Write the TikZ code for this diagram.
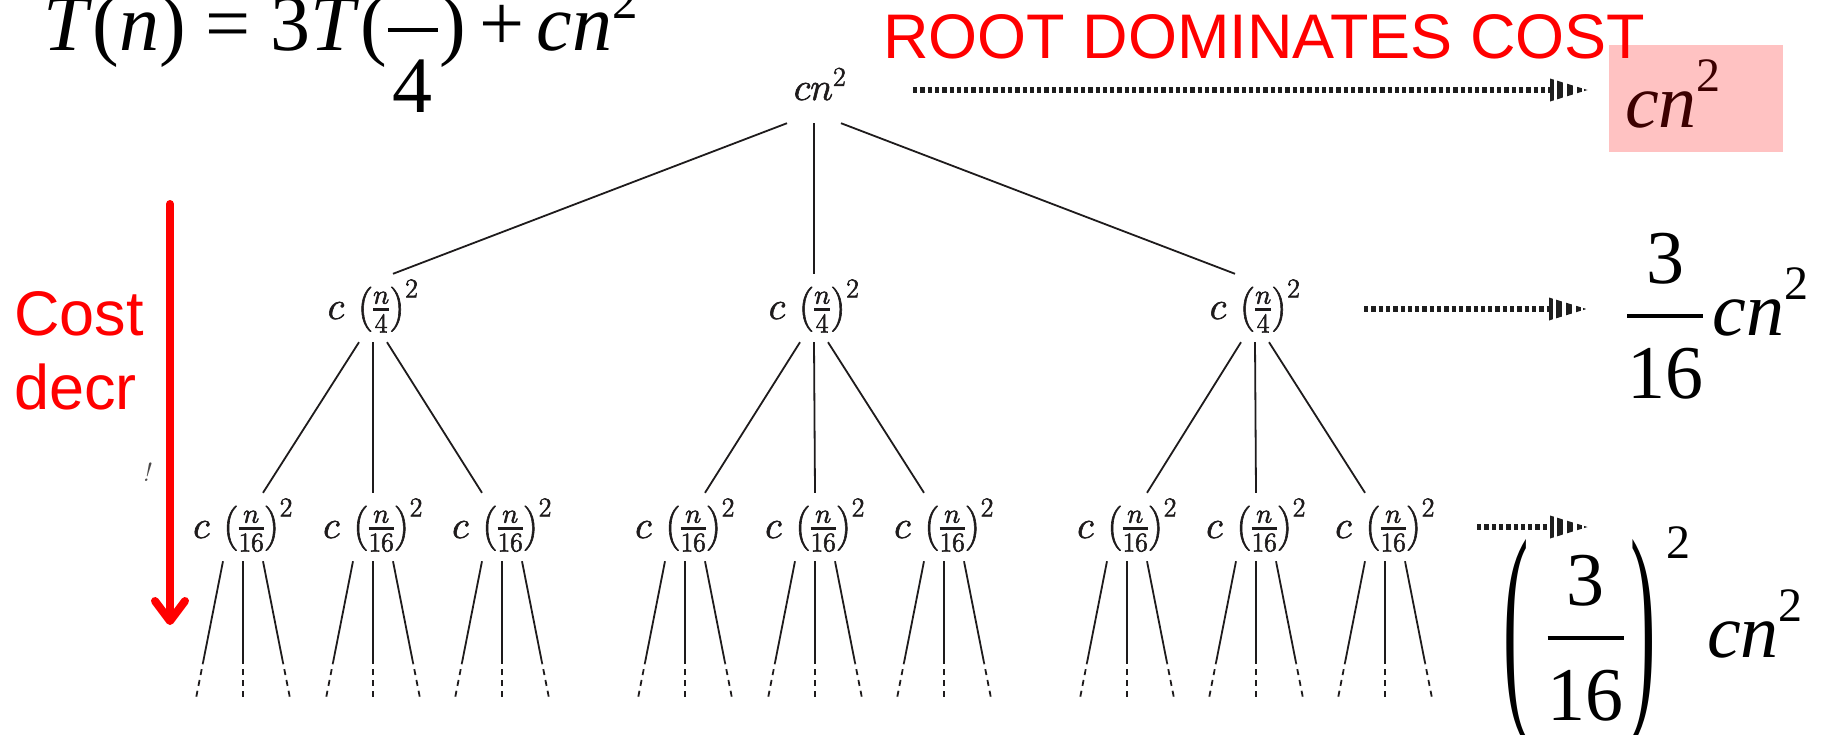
\RequirePackage{fix-cm}
\documentclass[tikz,border=0pt]{standalone}
\usepackage{amsmath}
\usepackage{graphicx}
\usepackage{fontspec}
\newfontfamily\tnr{Liberation Serif}
\newfontfamily\arial{Liberation Sans}
\usetikzlibrary{arrows.meta,calc}
\definecolor{tred}{RGB}{255,0,0}
\definecolor{ink}{RGB}{30,27,28}
\definecolor{boxpink}{RGB}{255,194,194}
\definecolor{boxtext}{RGB}{60,0,0}
\definecolor{dotgray}{RGB}{30,30,30}
\newcommand\psup[1]{\raisebox{0.47em}{\fontsize{48}{48}\selectfont #1}}
\newcommand\heavy[1]{\special{pdf:literal direct 2 Tr 0.6 w}#1\special{pdf:literal direct 0 Tr}}
\newcommand\dothead[1]{%
  \begin{scope}[shift={(#1)}]
    \clip (-37,-11.5) -- (0.5,0) -- (-37,11.5) -- cycle;
    \foreach \ha/\hb in {-37/-33.5,-30/-24,-20/-14,-10/-5,-3/1}{\fill[dotgray] (\ha,-12) rectangle (\hb,12);}
  \end{scope}}
\begin{document}
\begin{tikzpicture}[x=1pt,y=-1pt,
  tree/.style={anchor=base, inner sep=0pt, text height=45pt, text depth=23pt,
    font=\fontsize{39}{47}\selectfont, text=ink},
  edge/.style={draw=ink, line width=1.8pt},
  leafdash/.style={edge, dash pattern=on 6pt off 5pt, dash phase=5pt},
  dotline/.style={draw=dotgray, line width=5.5pt, dash pattern=on 4.3pt off 3pt},
  redlbl/.style={font=\arial\fontsize{63}{74}\selectfont, text=tred, inner sep=0pt},
  serifbig/.style={font=\tnr\fontsize{76}{90}\selectfont, inner sep=0pt, anchor=base west},
  redarrow/.style={draw=tred, line width=8pt, line cap=round, line join=round,
    -{Straight Barb[length=20pt,width=30pt,round]}},
  costbox/.style={fill=boxpink, minimum width=174pt, minimum height=107pt, inner sep=0pt, anchor=north west}
]
\useasboundingbox (0,0) rectangle (1841,734);
\fill[white] (0,0) rectangle (1841,734);

% pink box (behind the title)
\node[costbox] (cbox) at (1609,45) {};

% recurrence
\node[serifbig, font=\tnr\fontsize{80}{92}\selectfont] (eq) at (43,50)
  {\textit{T}(\textit{n}) = 3\textit{T}($\genfrac{}{}{3.5pt}{0}{\vphantom{n}}{\mbox{\kern5pt\rule{0pt}{70pt}4\kern5pt}}$)\kern14pt+\kern12pt\textit{cn}\raisebox{0.4em}{\fontsize{51}{51}\selectfont 2}};

% titles
\node[redlbl, anchor=base west] (title) at (883,58) {ROOT DOMINATES COST};
\node[redlbl, anchor=north west, align=left] (cd) at (14,291) {Cost\\decr};
\node[anchor=base, inner sep=0pt, font=\fontsize{26}{26}\selectfont\itshape, text=ink!80] (bang) at (146,481) {!};

% red arrow
\coordinate (rtop) at (170,204);
\coordinate (rtip) at (170,625);
\draw[redarrow] (rtop) -- (rtip);

% tree
\node[tree] (r) at (820,100) {\heavy{$cn^{2}$}};
\foreach \nm/\xx in {a1/373,a2/814,a3/1255}{
  \node[tree] (\nm) at (\xx,319) {\heavy{$c\,\left(\vcenter to 44pt{}\genfrac{}{}{2.6pt}{1}{n}{4}\right)^{2}$}};
}
\foreach \nm/\xx in {b1/243,b2/373,b3/502,b4/685,b5/815,b6/944,b7/1127,b8/1256,b9/1385}{
  \node[tree] (\nm) at (\xx,538) {\heavy{$c\,\left(\vcenter to 44pt{}\genfrac{}{}{2.6pt}{1}{n}{16}\right)^{2}$}};
}
\draw[edge] ([xshift=-33pt]r.south) -- ([xshift=20pt]a1.north);
\draw[edge] ([xshift=-6pt]r.south) -- (a2.north);
\draw[edge] ([xshift=21pt]r.south) -- ([xshift=-20pt]a3.north);
\foreach \pa/\ca/\cb/\cc in {a1/b1/b2/b3,a2/b4/b5/b6,a3/b7/b8/b9}{
  \draw[edge] ([xshift=-14pt]\pa.south) -- ([xshift=20pt]\ca.north);
  \draw[edge] (\pa.south) -- (\cb.north);
  \draw[edge] ([xshift=14pt]\pa.south) -- ([xshift=-20pt]\cc.north);
}
\foreach \i in {1,...,9}{
  \path ([xshift=-20pt]b\i.south) coordinate (b\i-l0) ++(-27,137) coordinate (b\i-l1);
  \path (b\i.south) coordinate (b\i-m0) ++(0,137) coordinate (b\i-m1);
  \path ([xshift=20pt]b\i.south) coordinate (b\i-r0) ++(27,137) coordinate (b\i-r1);
  \foreach \s in {l,m,r}{
    \draw[edge] (b\i-\s0) -- ($(b\i-\s0)!0.745!(b\i-\s1)$);
    \draw[leafdash] ($(b\i-\s0)!0.745!(b\i-\s1)$) -- (b\i-\s1);
  }
}

% level costs
\node[serifbig, text=boxtext] (cost0) at (1625,127) {\textit{cn}\psup{2}};
\node[serifbig] (cost1) at (1626,335)
  {$\genfrac{}{}{3.5pt}{0}{\mbox{3}}{\mbox{\rule{0pt}{70pt}16}}$\kern8pt\textit{cn}\psup{2}};
\node[serifbig] (cost2) at (1503,657)
  {\raisebox{-40pt}{\scalebox{1}[3]{(}}\kern18pt$\genfrac{}{}{3.5pt}{0}{\mbox{3}}{\mbox{\rule{0pt}{70pt}16}}$\kern6pt\raisebox{-40pt}{\scalebox{1}[3]{)}}\kern10pt\raisebox{99pt}{\fontsize{48}{48}\selectfont 2}\kern17pt\textit{cn}\psup{2}};

% dotted arrows
\coordinate (d1s) at (913,90);   \coordinate (d1e) at (1587,90);
\coordinate (d2s) at (1364,309); \coordinate (d2e) at (1586,309);
\coordinate (d3s) at (1477,527); \coordinate (d3e) at (1587,527);
\draw[dotline] (d1s) -- ([xshift=-37pt]d1e); \dothead{d1e}
\draw[dotline] (d2s) -- ([xshift=-37pt]d2e); \dothead{d2e}
\draw[dotline] (d3s) -- ([xshift=-37pt]d3e); \dothead{d3e}
\end{tikzpicture}
\end{document}
